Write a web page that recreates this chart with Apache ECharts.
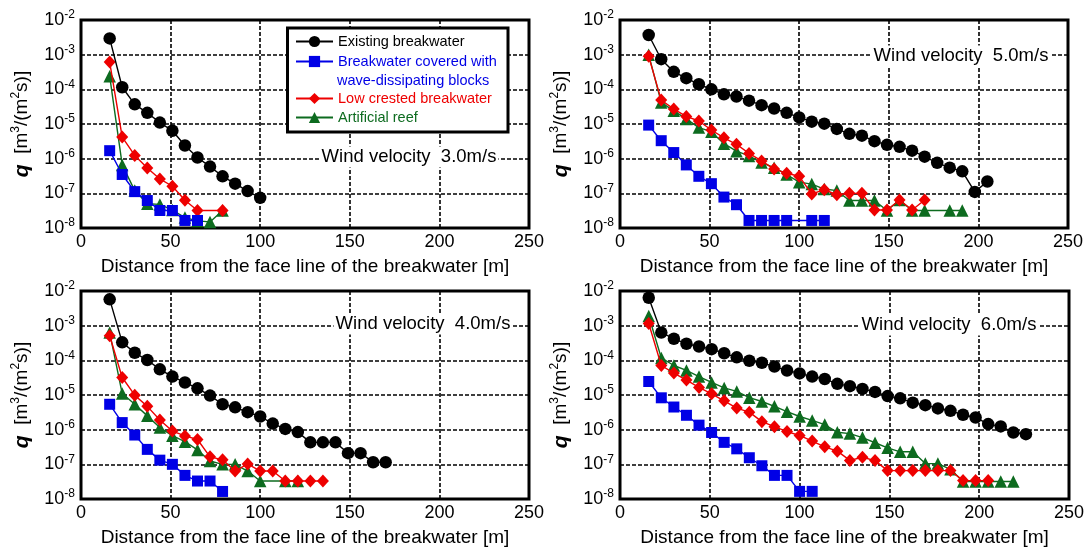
<!DOCTYPE html>
<html><head><meta charset="utf-8">
<script src="https://cdn.jsdelivr.net/npm/echarts@6/dist/echarts.min.js"></script>
<style>html,body{margin:0;padding:0;background:#fff}#c{width:1088px;height:548px}</style>
</head><body><div id="c"></div>
<script>
// ---------- DATA ----------
const seriesNames = ['Existing breakwater', 'Breakwater covered with wave-dissipating blocks', 'Low crested breakwater', 'Artificial reef'];
const panelTitles = ['Wind velocity  3.0m/s', 'Wind velocity  5.0m/s', 'Wind velocity  4.0m/s', 'Wind velocity  6.0m/s'];
const xTicks = [0, 50, 100, 150, 200, 250];

// Panel 1: 3.0 m/s
const d1Black = [16,23,30,37,44,51,58,65,72,79,86,93,100];
const q1Black = [2.95e-3,1.15e-4,3.7e-5,2.1e-5,1.1e-5,6.4e-6,2.4e-6,1.08e-6,5.9e-7,3.1e-7,1.9e-7,1.16e-7,7.4e-8];
const d1Blue = [16,23,30,37,44,51,58,65];
const q1Blue = [1.7e-6,3.5e-7,1.12e-7,6.2e-8,3.2e-8,3.2e-8,1.65e-8,1.65e-8];
const d1Red = [16,23,30,37,44,51,58,65,79];
const q1Red = [6.1e-4,4.2e-6,1.24e-6,5.4e-7,2.6e-7,1.6e-7,6.3e-8,3.2e-8,3.2e-8];
const d1Green = [16,23,30,37,44,51,58,65,72,79];
const q1Green = [2.4e-4,6.6e-7,1.2e-7,5.0e-8,4.8e-8,3.3e-8,2.0e-8,1.6e-8,1.5e-8,3.2e-8];

// Panel 2: 5.0 m/s
const d2Black = [16,23,30,37,44,51,58,65,72,79,86,93,100,107,114,121,128,135,142,149,156,163,170,177,184,191,198,205];
const q2Black = [3.7e-3,7.4e-4,3.2e-4,2.1e-4,1.4e-4,1.0e-4,7.2e-5,6.2e-5,4.7e-5,3.5e-5,2.8e-5,2.1e-5,1.55e-5,1.17e-5,1.02e-5,7.2e-6,5.2e-6,4.6e-6,3.2e-6,2.5e-6,2.2e-6,1.7e-6,1.14e-6,7.6e-7,5.5e-7,4.3e-7,1.1e-7,2.2e-7];
const d2Blue = [16,23,30,37,44,51,58,65,72,79,86,93,107,114];
const q2Blue = [9.3e-6,3.3e-6,1.5e-6,6.6e-7,3.1e-7,1.9e-7,7.8e-8,4.7e-8,1.65e-8,1.65e-8,1.65e-8,1.65e-8,1.65e-8,1.65e-8];
const d2Red = [16,23,30,37,44,51,58,65,72,79,86,93,100,107,114,121,128,135,142,149,156,163,170];
const q2Red = [9.0e-4,4.9e-5,2.7e-5,1.65e-5,1.22e-5,6.7e-6,4.0e-6,2.6e-6,1.42e-6,8.6e-7,5.0e-7,3.8e-7,3.1e-7,9.6e-8,1.27e-7,9.1e-8,1.0e-7,1.0e-7,3.3e-8,3.3e-8,6.4e-8,3.3e-8,6.4e-8];
const d2Green = [16,23,30,37,44,51,58,65,72,79,86,93,100,107,114,121,128,135,142,149,156,163,170,184,191];
const q2Green = [1.0e-3,4.2e-5,2.4e-5,1.4e-5,7.9e-6,6.0e-6,2.7e-6,1.65e-6,1.2e-6,7.7e-7,5.5e-7,3.5e-7,2.1e-7,1.85e-7,1.33e-7,1.2e-7,6.2e-8,6.2e-8,6.2e-8,3.2e-8,6.4e-8,3.2e-8,3.2e-8,3.2e-8,3.2e-8];

// Panel 3: 4.0 m/s
const d3Black = [16,23,30,37,44,51,58,65,72,79,86,93,100,107,114,121,128,135,142,149,156,163,170];
const q3Black = [5.75e-3,3.3e-4,1.65e-4,1.02e-4,5.5e-5,3.4e-5,2.3e-5,1.56e-5,9.6e-6,5.4e-6,4.4e-6,3.2e-6,2.4e-6,1.5e-6,1.05e-6,8.5e-7,4.3e-7,4.3e-7,4.3e-7,2.1e-7,2.1e-7,1.15e-7,1.15e-7];
const d3Blue = [16,23,30,37,44,51,58,65,72,79];
const q3Blue = [5.4e-6,1.6e-6,7.0e-7,2.7e-7,1.32e-7,1.0e-7,4.8e-8,3.3e-8,3.3e-8,1.65e-8];
const d3Red = [16,23,30,37,44,51,58,65,72,79,86,93,100,107,114,121,128,135];
const q3Red = [5.1e-4,3.2e-5,9.9e-6,4.7e-6,1.9e-6,9.1e-7,6.6e-7,5.2e-7,1.65e-7,1.35e-7,6.4e-8,1.03e-7,6.4e-8,6.4e-8,3.3e-8,3.3e-8,3.3e-8,3.3e-8];
const d3Green = [16,23,30,37,44,51,58,65,72,79,86,93,100,114,121];
const q3Green = [6.3e-4,1.1e-5,5.4e-6,2.5e-6,1.15e-6,6.7e-7,4.5e-7,2.6e-7,1.25e-7,1.0e-7,1.0e-7,6.4e-8,3.3e-8,3.3e-8,3.3e-8];

// Panel 4: 6.0 m/s
const d4Black = [16,23,30,37,44,51,58,65,72,79,86,93,100,107,114,121,128,135,142,149,156,163,170,177,184,191,198,205,212,219,226];
const q4Black = [6.4e-3,6.3e-4,4.2e-4,3.0e-4,2.5e-4,2.1e-4,1.6e-4,1.22e-4,9.7e-5,8.5e-5,6.6e-5,5.1e-5,4.2e-5,3.4e-5,2.9e-5,2.1e-5,1.8e-5,1.5e-5,1.23e-5,9.3e-6,8.0e-6,6.0e-6,5.1e-6,4.1e-6,3.5e-6,2.7e-6,2.25e-6,1.45e-6,1.24e-6,8.3e-7,7.4e-7];
const d4Blue = [16,23,30,37,44,51,58,65,72,79,86,93,100,107];
const q4Blue = [2.45e-5,8.3e-6,4.5e-6,2.6e-6,1.35e-6,8.3e-7,4.3e-7,2.8e-7,1.55e-7,9.1e-8,4.8e-8,4.8e-8,1.66e-8,1.66e-8];
const d4Red = [16,23,30,37,44,51,58,65,72,79,86,93,100,107,114,121,128,135,142,149,156,163,170,177,184,191,198,205];
const q4Red = [1.15e-3,7.1e-5,4.3e-5,2.7e-5,1.65e-5,1.08e-5,6.8e-6,4.2e-6,3.2e-6,1.7e-6,1.22e-6,8.8e-7,6.8e-7,4.7e-7,3.2e-7,2.4e-7,1.3e-7,1.6e-7,1.28e-7,6.6e-8,6.6e-8,6.6e-8,6.6e-8,6.6e-8,6.6e-8,3.4e-8,3.4e-8,3.4e-8];
const d4Green = [16,23,30,37,44,51,58,65,72,79,86,93,100,107,114,121,128,135,142,149,156,163,170,177,184,191,198,205,212,219];
const q4Green = [1.9e-3,1.17e-4,7.1e-5,5.1e-5,3.4e-5,2.3e-5,1.6e-5,1.27e-5,8.4e-6,6.5e-6,4.7e-6,3.3e-6,2.4e-6,1.85e-6,1.4e-6,8.4e-7,7.7e-7,5.9e-7,4.2e-7,3.0e-7,2.3e-7,2.3e-7,1.05e-7,1.05e-7,7.2e-8,3.2e-8,3.2e-8,3.2e-8,3.2e-8,3.2e-8];

const panels = [
  [[d1Black,q1Black],[d1Blue,q1Blue],[d1Red,q1Red],[d1Green,q1Green]],
  [[d2Black,q2Black],[d2Blue,q2Blue],[d2Red,q2Red],[d2Green,q2Green]],
  [[d3Black,q3Black],[d3Blue,q3Blue],[d3Red,q3Red],[d3Green,q3Green]],
  [[d4Black,q4Black],[d4Blue,q4Blue],[d4Red,q4Red],[d4Green,q4Green]]
];

// ---------- STYLE ----------
const FONT = '"Liberation Sans", Arial, sans-serif';
const colors = ['#000000', '#0000e6', '#ee0000', '#0d6b1f'];
const symbols = ['circle', 'rect', 'diamond', 'triangle'];
const symSizes = [12.5, 11, [12, 13], 12.5];
const drawOrder = [3, 2, 1, 0]; // green, red, blue, black on top
const grids = [
  {left: 81, top: 20, width: 448, height: 208},
  {left: 620, top: 20, width: 448, height: 208},
  {left: 81, top: 291, width: 448, height: 208},
  {left: 620, top: 291, width: 449, height: 208}
];
const titlePos = [[409, 157], [961, 56], [423, 324], [949, 325]];

const gridLine = {show: true, lineStyle: {color: '#000', type: [4, 2], width: 1.6}};

const option = {
  animation: false,
  backgroundColor: '#fff',
  grid: grids.map(g => Object.assign({show: true, borderColor: '#000', borderWidth: 3, backgroundColor: 'transparent'}, g)),
  xAxis: grids.map((g, i) => ({
    type: 'value', gridIndex: i, min: xTicks[0], max: xTicks[xTicks.length - 1], interval: 50,
    axisLine: {show: false}, axisTick: {show: false}, splitLine: gridLine,
    axisLabel: {color: '#000', fontSize: 18, fontFamily: FONT, margin: 5},
    name: 'Distance from the face line of the breakwater [m]',
    nameLocation: 'middle', nameGap: 29,
    nameTextStyle: {color: '#000', fontSize: 19, fontFamily: FONT}
  })),
  yAxis: grids.map((g, i) => ({
    type: 'log', logBase: 10, gridIndex: i, min: 1e-8, max: 1e-2,
    axisLine: {show: false}, axisTick: {show: false}, splitLine: gridLine,
    axisLabel: {
      margin: 6,
      formatter: v => '{b|10}{s|' + Math.round(Math.log10(v)) + '}',
      rich: {
        b: {fontSize: 18, fontFamily: FONT, color: '#000', lineHeight: 22},
        s: {fontSize: 12, fontFamily: FONT, color: '#000', lineHeight: 12, verticalAlign: 'top'}
      }
    },
    name: '{q|q}{t|  [m}{s|3}{t|/(m}{s|2}{t|s)]}',
    nameLocation: 'middle', nameGap: 47, nameRotate: 90,
    nameTextStyle: {
      rich: {
        q: {fontSize: 21, fontWeight: 'bold', fontStyle: 'italic', fontFamily: FONT, color: '#000', lineHeight: 24},
        t: {fontSize: 19, fontFamily: FONT, color: '#000', lineHeight: 24},
        s: {fontSize: 12, fontFamily: FONT, color: '#000', lineHeight: 12, verticalAlign: 'top'}
      }
    }
  })),
  legend: [
    {
      orient: 'vertical', left: 295, top: 33, padding: 0, itemGap: 3, itemWidth: 37, itemHeight: 14, z: 110,
      selectedMode: false,
      textStyle: {fontSize: 14.5, fontFamily: FONT, lineHeight: 17},
      formatter: n => n === seriesNames[1] ? 'Breakwater covered with' : n,
      data: [
        {name: seriesNames[0], textStyle: {color: colors[0]}},
        {name: seriesNames[1], textStyle: {color: colors[1]}}
      ]
    },
    {
      orient: 'vertical', left: 295, top: 90, padding: 0, itemGap: 2, itemWidth: 37, itemHeight: 14, z: 110,
      selectedMode: false,
      textStyle: {fontSize: 14.5, fontFamily: FONT, lineHeight: 17},
      data: [
        {name: seriesNames[2], textStyle: {color: colors[2]}},
        {name: seriesNames[3], textStyle: {color: colors[3]}}
      ]
    }
  ],
  graphic: {
    elements: [
      {type: 'rect', z: 100, shape: {x: 287.5, y: 28, width: 220.5, height: 104},
       style: {fill: '#fff', stroke: '#000', lineWidth: 3}},
      {type: 'text', z: 111, x: 337, y: 81,
       style: {text: 'wave-dissipating blocks', fill: colors[1], font: '14.5px ' + FONT, verticalAlign: 'middle', align: 'left'}}
    ].concat(titlePos.map((p, i) => ({
      type: 'text', z: 100, x: p[0], y: p[1],
      style: {text: panelTitles[i], fill: '#000', font: '18.5px ' + FONT, align: 'center', verticalAlign: 'middle',
              backgroundColor: '#fff', padding: [1, 2]}
    })))
  },
  series: []
};

panels.forEach((panel, gi) => {
  drawOrder.forEach((si, k) => {
    const [xs, qs] = panel[si];
    option.series.push({
      type: 'line', name: seriesNames[si], xAxisIndex: gi, yAxisIndex: gi,
      data: xs.map((x, j) => [x, qs[j]]),
      symbol: symbols[si], symbolSize: symSizes[si], showSymbol: true,
      itemStyle: {color: colors[si]},
      lineStyle: {color: colors[si], width: 1.4},
      z: 2 + k, clip: false
    });
  });
});

const chart = echarts.init(document.getElementById('c'), null, {renderer: 'canvas'});
chart.setOption(option);
</script>
</body></html>
